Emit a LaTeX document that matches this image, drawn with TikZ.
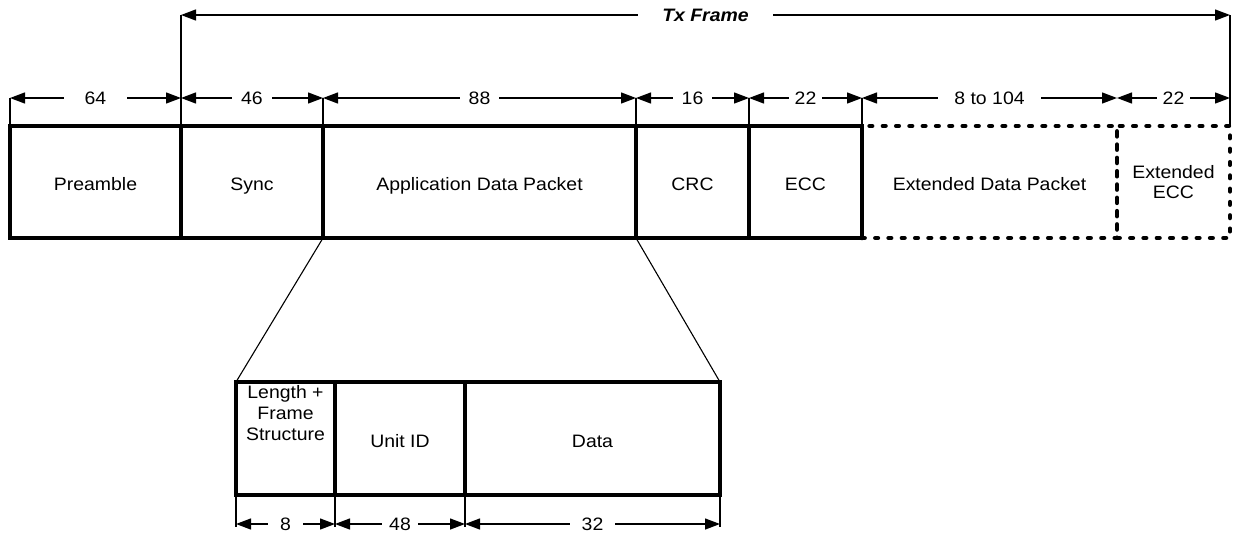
\documentclass[tikz,border=0pt]{standalone}
\usepackage{fontspec}
\setmainfont[FakeStretch=1.08]{Liberation Sans}
\usetikzlibrary{arrows.meta}
\begin{document}
\begin{tikzpicture}[x=1pt,y=1pt,
  lblfont/.style={font=\fontsize{18}{21}\selectfont},
  field/.style={draw, line width=4pt, rectangle, inner sep=0pt, outer sep=0pt,
    anchor=north west, lblfont, align=center},
  onel/.style={text height=19pt, text depth=2pt},
  dotfield/.style={field, line width=4.5pt, dash pattern=on 2.6pt off 10.7pt, line cap=round},
  ext/.style={line width=1.3pt},
  dim/.style={line width=1.3pt, {Triangle[length=15pt,width=11pt]}-{Triangle[length=15pt,width=11pt]}},
  dimlab/.style={fill=white, inner ysep=2pt, inner xsep=9pt, lblfont},
  fan/.style={line width=1.1pt}
]
\useasboundingbox (0,0) rectangle (1239,-533);

% main frame
\node[field, onel, minimum width=171, minimum height=112] (pre) at (10,-126) {Preamble};
\node[field, onel, minimum width=142, minimum height=112] (sync) at (181,-126) {Sync};
\node[field, onel, minimum width=313, minimum height=112] (app) at (323,-126) {Application Data Packet};
\node[field, onel, minimum width=113, minimum height=112] (crc) at (636,-126) {CRC};
\node[field, onel, minimum width=113, minimum height=112] (ecc) at (749,-126) {ECC};
\node[dotfield, onel, minimum width=255, minimum height=112] (ext) at (862,-126) {Extended Data Packet};
\node[dotfield, minimum width=113, minimum height=112] (eecc) at (1117,-126) {Extended\\[-1pt]ECC};
\draw[line width=4pt] (ecc.north east) -- (ecc.south east);

% extension lines
\draw[ext] (pre.north west) -- ++(0,28) coordinate (d0);
\draw[ext] (sync.north west) -- ++(0,111) coordinate (txl);
\coordinate (d1) at ([yshift=28]sync.north west);
\draw[ext] (app.north west) -- ++(0,28) coordinate (d2);
\draw[ext] (crc.north west) -- ++(0,28) coordinate (d3);
\draw[ext] (ecc.north west) -- ++(0,28) coordinate (d4);
\draw[ext] (ext.north west) -- ++(0,28) coordinate (d5);
\coordinate (d6) at ([yshift=28]eecc.north west);
\draw[ext] (eecc.north east) -- ++(0,111) coordinate (txr);
\coordinate (d7) at ([yshift=28]eecc.north east);

% dimension arrows
\draw[dim] (txl) -- node[dimlab, inner xsep=24pt, font=\fontsize{18}{21}\selectfont\bfseries\itshape] {Tx Frame} (txr);
\draw[dim] (d0) -- node[dimlab, inner xsep=21pt] {64} (d1);
\draw[dim] (d1) -- node[dimlab] {46} (d2);
\draw[dim] (d2) -- node[dimlab] {88} (d3);
\draw[dim] (d3) -- node[dimlab] {16} (d4);
\draw[dim] (d4) -- node[dimlab, inner xsep=6pt] {22} (d5);
\draw[dim] (d5) -- node[dimlab, inner xsep=16pt] {8 to 104} (d6);
\draw[dim] (d6) -- node[dimlab, inner xsep=6pt] {22} (d7);

% sub packet
\node[field, minimum width=99, minimum height=113] (len) at (236,-382) {};
\node[lblfont, align=center, inner sep=0pt] (lentxt) at ([yshift=-31]len.north) {Length +\\[0pt]Frame\\[0pt]Structure};
\node[field, onel, minimum width=130, minimum height=113] (uid) at (335,-382) {Unit ID};
\node[field, onel, minimum width=255, minimum height=113] (data) at (465,-382) {Data};

\draw[fan] (app.south west) -- (len.north west);
\draw[fan] (app.south east) -- (data.north east);

\draw[ext] (len.south west) -- ++(0,-32);
\draw[ext] (uid.south west) -- ++(0,-32);
\draw[ext] (data.south west) -- ++(0,-32);
\draw[ext] (data.south east) -- ++(0,-32);
\coordinate (e0) at ([yshift=-29]len.south west);
\coordinate (e1) at ([yshift=-29]uid.south west);
\coordinate (e2) at ([yshift=-29]data.south west);
\coordinate (e3) at ([yshift=-29]data.south east);
\draw[dim] (e0) -- node[dimlab, inner xsep=12pt] {8} (e1);
\draw[dim] (e1) -- node[dimlab, inner xsep=7pt] {48} (e2);
\draw[dim] (e2) -- node[dimlab, inner xsep=12pt] {32} (e3);
\end{tikzpicture}
\end{document}
